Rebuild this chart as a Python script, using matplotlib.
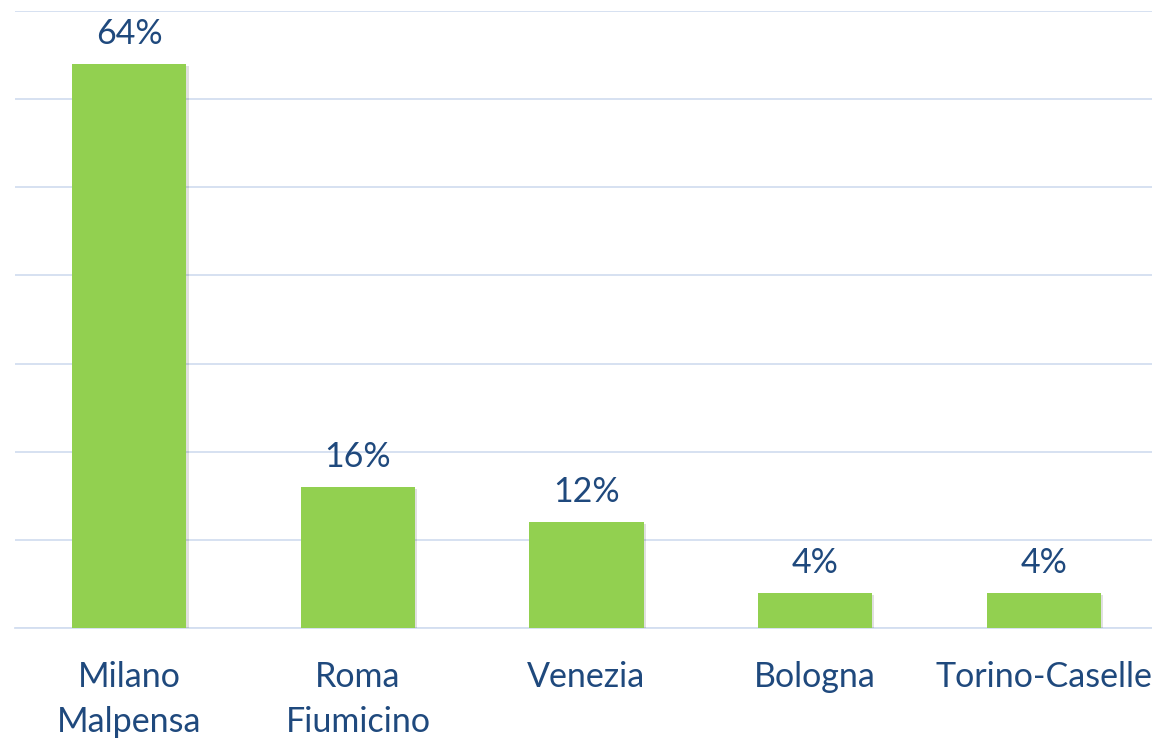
import matplotlib
matplotlib.use("Agg")
import matplotlib.pyplot as plt
import matplotlib.patheffects as pe

categories = ["Milano\nMalpensa", "Roma\nFiumicino", "Venezia", "Bologna", "Torino-Caselle"]
values = [64, 16, 12, 4, 4]
value_labels = ["64%", "16%", "12%", "4%", "4%"]

TEXT = "#1F497D"
BAR = "#92D050"
GRID = "#D3DEF0"

plt.rcParams['font.family'] = ['Lato', 'DejaVu Sans']

fig = plt.figure(figsize=(11.52, 7.39), dpi=100)
ax = fig.add_axes([15/1152, 1-628/739, (1158-15)/1152, (628-11)/739])

x = list(range(len(categories)))
bars = ax.bar(x, values, width=0.5, color=BAR, zorder=3,
              path_effects=[pe.SimplePatchShadow(offset=(1.5, -1.5), shadow_rgbFace="#000000", alpha=0.12), pe.Normal()])
for xi, v, lab in zip(x, values, value_labels):
    ax.annotate(lab, (xi, v), xytext=(0, 10), textcoords="offset points",
                ha="center", va="bottom", fontsize=24.5, color=TEXT)

ax.set_xlim(-0.5, len(categories) - 0.5)
ax.set_ylim(0, 70)
ax.set_yticks(range(0, 71, 10))
ax.yaxis.grid(True, color=GRID, linewidth=1.3, zorder=0)
ax.set_axisbelow(True)
ax.tick_params(axis="y", left=False, labelleft=False)
ax.set_xticks(x)
ax.set_xticklabels(categories, fontsize=24.5, color=TEXT, linespacing=1.5)
ax.tick_params(axis="x", length=0, pad=24)
for s in ["top", "left", "right"]:
    ax.spines[s].set_visible(False)
ax.spines["bottom"].set_color(GRID)
ax.spines["bottom"].set_linewidth(1.3)

fig.savefig("out.png", dpi=100)
